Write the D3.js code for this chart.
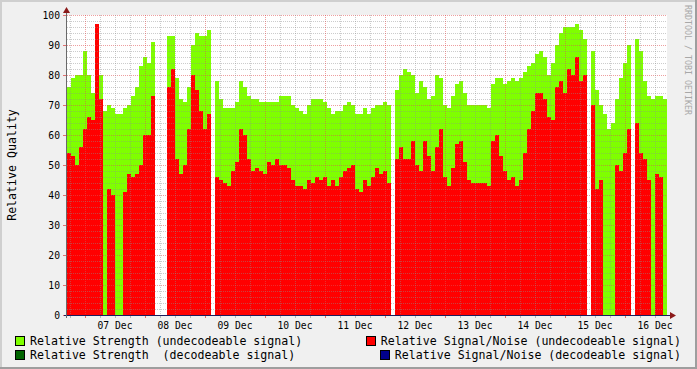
<!DOCTYPE html>
<html>
<head>
<meta charset="utf-8">
<title>relative quality</title>
<style>
  body { margin: 0; background: #f0f0f0; }
  text { font-family: "DejaVu Sans Mono", monospace; white-space: pre; }
</style>
</head>
<body>
<svg id="chart"></svg>
<script src="https://cdn.jsdelivr.net/npm/d3@7/dist/d3.min.js"></script>
<script>
// one sample every 96 minutes, first sample 06 Dec 16:48
var startTime = Date.UTC(2009, 11, 6, 16, 48);
var stepMinutes = 96;

// Relative Strength (undecodeable signal), null = no data
var strength = [
  76, 79, 80, 80, 88, 80, 74, 97, 80, 68,
  70, 69, 67, 67, 69, 70, 73, 76, 83, 86,
  84, 91, null, null, null, 93, 93, 79, 72, 71,
  76, 90, 94, 93, 93, 95, null, 78, 72, 69,
  69, 69, 71, 78, 76, 73, 72, 72, 71, 71,
  71, 71, 71, 73, 73, 73, 70, 69, 68, 67,
  70, 72, 72, 72, 71, 69, 67, 68, 68, 70,
  71, 70, 67, 67, 69, 67, 69, 70, 70, 71,
  70, null, 75, 80, 82, 81, 80, 74, 78, 76,
  72, 73, 80, 79, 70, 69, 73, 77, 78, 74,
  70, 70, 70, 70, 70, 69, 77, 79, 79, 77,
  78, 79, 78, 79, 81, 83, 84, 87, 88, 86,
  80, 84, 90, 94, 96, 96, 96, 97, 95, 92,
  null, 88, 75, 70, 67, 62, 64, 72, 79, 84,
  90, null, 92, 88, 78, 73, 72, 73, 73, 72
];

// Relative Signal/Noise (undecodeable signal)
var snr = [
  54, 53, 50, 56, 62, 66, 65, 97, 72, 0,
  42, 40, 0, 0, 41, 47, 46, 47, 50, 60,
  60, 73, null, null, null, 76, 82, 52, 47, 50,
  62, 80, 75, 68, 62, 67, null, 46, 45, 44,
  43, 48, 51, 62, 60, 52, 48, 49, 48, 47,
  51, 50, 52, 50, 50, 49, 45, 43, 43, 42,
  45, 44, 46, 45, 46, 43, 45, 43, 46, 48,
  49, 50, 42, 41, 45, 43, 46, 49, 47, 48,
  44, null, 52, 56, 52, 52, 58, 50, 48, 58,
  53, 48, 56, 62, 46, 43, 49, 57, 58, 51,
  45, 44, 44, 44, 44, 43, 58, 60, 53, 48,
  45, 46, 43, 45, 54, 62, 68, 74, 74, 72,
  66, 65, 76, 78, 74, 82, 80, 86, 78, 80,
  null, 70, 42, 45, 0, 0, 0, 50, 48, 54,
  62, null, 64, 54, 52, 45, 0, 47, 46, 0
];

var dayLabels = ["07 Dec", "08 Dec", "09 Dec", "10 Dec", "11 Dec",
                 "12 Dec", "13 Dec", "14 Dec", "15 Dec", "16 Dec"];
var yTicks = [0, 10, 20, 30, 40, 50, 60, 70, 80, 90, 100];

var legendLeft = ["Relative Strength (undecodeable signal)", "Relative Strength  (decodeable signal)"];
var legendRight = ["Relative Signal/Noise (undecodeable signal)", "Relative Signal/Noise (decodeable signal)"];
var colStrength = "#7fff00", colSnr = "#ff0000", colStrengthDec = "#006400", colSnrDec = "#00008b";

var W = 697, H = 369;
var plotL = 67, plotR = 667, plotT = 15, plotB = 315;
var step = stepMinutes * 60000;

var svg = d3.select('#chart').attr('width', W).attr('height', H);

// background and 3d frame
svg.append('rect').attr('width', W).attr('height', H).attr('fill', '#f0f0f0');
svg.append('rect').attr('x', 0).attr('y', 0).attr('width', W).attr('height', 2).attr('fill', '#cfcfcf');
svg.append('rect').attr('x', 0).attr('y', 0).attr('width', 2).attr('height', H).attr('fill', '#cfcfcf');
svg.append('rect').attr('x', 0).attr('y', H - 2).attr('width', W).attr('height', 2).attr('fill', '#9e9e9e');
svg.append('rect').attr('x', W - 2).attr('y', 0).attr('width', 2).attr('height', H).attr('fill', '#9e9e9e');

var x = d3.scaleUtc()
    .domain([new Date(startTime), new Date(startTime + strength.length * step)])
    .range([plotL, plotR]);
var y = d3.scaleLinear().domain([0, 100]).range([plotB, plotT]);

svg.append('rect').attr('x', plotL).attr('y', plotT)
    .attr('width', plotR - plotL).attr('height', plotB - plotT).attr('fill', '#fff');

var times = strength.map(function(d, i) { return new Date(startTime + i * step); });

function bars(values, color) {
    var pts = values.map(function(v, i) { return { v: v, t: times[i] }; })
        .filter(function(d) { return d.v !== null && d.v > 0; });
    svg.append('g').attr('shape-rendering', 'crispEdges')
        .selectAll('rect').data(pts).enter().append('rect')
        .attr('x', function(d) { return x(d.t); })
        .attr('width', function(d) { return x(new Date(+d.t + step)) - x(d.t); })
        .attr('y', function(d) { return Math.round(y(d.v)); })
        .attr('height', function(d) { return plotB - Math.round(y(d.v)); })
        .attr('fill', color);
}
bars(strength, colStrength);
bars(snr, colSnr);

// grid on top
var grid = svg.append('g').attr('shape-rendering', 'crispEdges');
d3.range(2, 101, 2).forEach(function(v) {
    var major = v % 10 === 0;
    grid.append('line').attr('x1', plotL).attr('x2', plotR)
        .attr('y1', y(v) + 0.5).attr('y2', y(v) + 0.5)
        .attr('stroke', major ? 'rgba(222,80,80,0.55)' : 'rgba(143,143,143,0.45)')
        .attr('stroke-dasharray', '1,1');
});
x.ticks(d3.utcHour.every(6)).forEach(function(t) {
    var major = t.getUTCHours() === 0;
    var px = Math.round(x(t)) + 0.5;
    grid.append('line').attr('x1', px).attr('x2', px).attr('y1', plotT).attr('y2', plotB)
        .attr('stroke', major ? 'rgba(222,80,80,0.55)' : 'rgba(143,143,143,0.45)')
        .attr('stroke-dasharray', '1,1');
    grid.append('line').attr('x1', px).attr('x2', px).attr('y1', plotB).attr('y2', plotB + 3)
        .attr('stroke', major ? 'rgba(222,80,80,0.8)' : 'rgba(143,143,143,0.6)');
});
yTicks.forEach(function(v) {
    grid.append('line').attr('x1', plotL - 4).attr('x2', plotL).attr('y1', y(v) + 0.5).attr('y2', y(v) + 0.5)
        .attr('stroke', 'rgba(222,80,80,0.8)');
});

// axes
svg.append('line').attr('x1', plotL - 3).attr('x2', plotR + 5).attr('y1', plotB + 0.5).attr('y2', plotB + 0.5)
    .attr('stroke', '#1c1c5c').attr('shape-rendering', 'crispEdges');
svg.append('line').attr('x1', plotL - 0.5).attr('x2', plotL - 0.5).attr('y1', plotB + 3).attr('y2', plotT - 5)
    .attr('stroke', '#6a6a6a').attr('shape-rendering', 'crispEdges');
svg.append('path').attr('d', 'M' + (plotL - 4) + ',' + (plotT - 2) + 'L' + (plotL + 3) + ',' + (plotT - 2) + 'L' + (plotL - 0.5) + ',' + (plotT - 8) + 'Z')
    .attr('fill', '#8b1a1a');
svg.append('path').attr('d', 'M' + (plotR + 3) + ',' + (plotB - 3) + 'L' + (plotR + 3) + ',' + (plotB + 4) + 'L' + (plotR + 9) + ',' + (plotB + 0.5) + 'Z')
    .attr('fill', '#8b1a1a');

// tick labels
svg.append('g').selectAll('text').data(yTicks).enter().append('text')
    .attr('x', 60).attr('y', function(d) { return y(d) + 3.5; })
    .attr('text-anchor', 'end').style('font-size', '9.7px').attr('fill', '#000')
    .text(function(d) { return d; });

var firstDay = d3.utcDay.ceil(new Date(startTime));
svg.append('g').selectAll('text').data(dayLabels).enter().append('text')
    .attr('x', function(d, i) { return x(d3.utcHour.offset(d3.utcDay.offset(firstDay, i), 12)); })
    .attr('y', 329).attr('text-anchor', 'middle').style('font-size', '9.7px')
    .text(function(d) { return d; });

// axis title and watermark
svg.append('text').attr('transform', 'translate(16,' + ((plotT + plotB) / 2) + ') rotate(-90)')
    .attr('text-anchor', 'middle').style('font-size', '11.6px').text('Relative Quality');
svg.append('text').attr('transform', 'translate(685,5) rotate(90)')
    .style('font-size', '8.3px').attr('fill', '#a8a8a8').text('RRDTOOL / TOBI OETIKER');

// legend
var rows = [345, 359];
[colStrength, colStrengthDec].forEach(function(c, i) {
    svg.append('rect').attr('x', 15.5).attr('y', rows[i] - 8.5).attr('width', 9).attr('height', 9)
        .attr('fill', c).attr('stroke', '#000');
    svg.append('text').attr('x', 30).attr('y', rows[i]).style('font-size', '11.6px').text(legendLeft[i]);
});
[colSnr, colSnrDec].forEach(function(c, i) {
    var t = svg.append('text').attr('x', 681).attr('y', rows[i]).attr('text-anchor', 'end')
        .style('font-size', '11.6px').text(legendRight[i]);
    var len = t.node().getComputedTextLength();
    svg.append('rect').attr('x', Math.round(681 - len - 15) + 0.5).attr('y', rows[i] - 8.5)
        .attr('width', 9).attr('height', 9).attr('fill', c).attr('stroke', '#000');
});
</script>
</body>
</html>
